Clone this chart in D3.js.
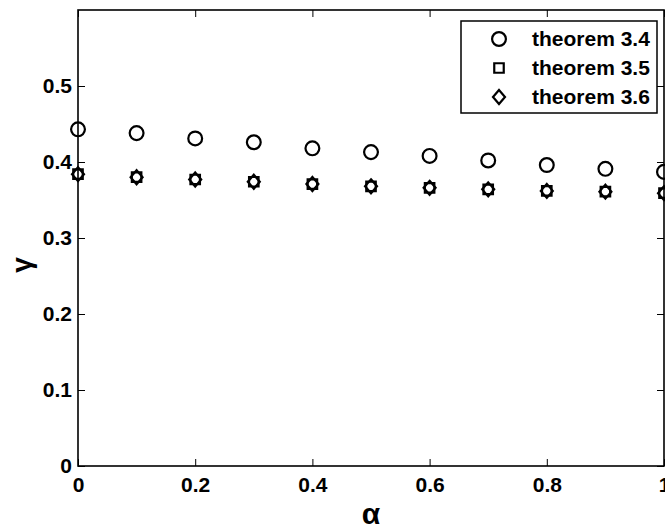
<!DOCTYPE html>
<html lang="en">
<head>
    <meta charset="UTF-8">
    <title>gamma vs alpha</title>
    <script src="https://d3js.org/d3.v7.min.js"></script>
    <style>
        body { margin: 0; background: #fff; }
        text {
            font-family: "Liberation Sans", Arial, sans-serif;
            font-weight: bold;
            fill: #000;
        }
    </style>
</head>
<body>
    <svg width="665" height="530"></svg>

    <script>
        // values
        const alphas = [0, 0.1, 0.2, 0.3, 0.4, 0.5, 0.6, 0.7, 0.8, 0.9, 1.0];
        const thm34 = [0.443, 0.438, 0.431, 0.426, 0.418, 0.413, 0.408, 0.402, 0.396, 0.391, 0.387];
        const thm35 = [0.384, 0.380, 0.377, 0.374, 0.371, 0.368, 0.366, 0.364, 0.362, 0.361, 0.359];
        const thm36 = [0.384, 0.380, 0.377, 0.374, 0.371, 0.368, 0.366, 0.364, 0.362, 0.361, 0.359];
        const xTicks = [0, 0.2, 0.4, 0.6, 0.8, 1];
        const yTicks = [0, 0.1, 0.2, 0.3, 0.4, 0.5];
        const labels = ["theorem 3.4", "theorem 3.5", "theorem 3.6"];

        const svg = d3.select("svg");
        const plotL = 78, plotR = 664, plotT = 10, plotB = 466;

        const x = d3.scaleLinear().domain([0, 1]).range([plotL, plotR]);
        const y = d3.scaleLinear().domain([0, 0.6]).range([plotB, plotT]);

        // frame
        svg.append("rect")
            .attr("x", plotL).attr("y", plotT)
            .attr("width", plotR - plotL).attr("height", plotB - plotT)
            .attr("fill", "none").attr("stroke", "#000").attr("stroke-width", 1.6);

        const fmt = d => d === 0 || d === 1 ? String(d) : d3.format(".1f")(d);

        // bottom / top axes, ticks pointing inward
        svg.append("g").attr("transform", `translate(0,${plotB})`)
            .call(d3.axisBottom(x).tickValues(xTicks).tickFormat(fmt).tickSizeInner(-7).tickSizeOuter(0).tickPadding(11))
            .call(g => g.select(".domain").remove())
            .call(g => g.selectAll("text").attr("font-size", 21).attr("font-family", null));
        svg.append("g").attr("transform", `translate(0,${plotT})`)
            .call(d3.axisTop(x).tickValues(xTicks).tickFormat("").tickSizeInner(-7).tickSizeOuter(0))
            .call(g => g.select(".domain").remove());

        // left / right axes
        svg.append("g").attr("transform", `translate(${plotL},0)`)
            .call(d3.axisLeft(y).tickValues(yTicks).tickFormat(fmt).tickSizeInner(-7).tickSizeOuter(0).tickPadding(6))
            .call(g => g.select(".domain").remove())
            .call(g => g.selectAll("text").attr("font-size", 21).attr("font-family", null));
        svg.append("g").attr("transform", `translate(${plotR},0)`)
            .call(d3.axisRight(y).tickValues(yTicks).tickFormat("").tickSizeInner(-7).tickSizeOuter(0))
            .call(g => g.select(".domain").remove());

        svg.selectAll(".tick line").attr("stroke", "#000");

        // axis labels
        svg.append("text")
            .attr("x", (plotL + plotR) / 2).attr("y", 524)
            .attr("text-anchor", "middle").attr("font-size", 30)
            .text("α");
        svg.append("text")
            .attr("transform", "translate(31,265) rotate(-90)")
            .attr("text-anchor", "middle").attr("font-size", 28)
            .text("γ");

        // markers
        const sym = {
            circle: d3.symbol().type(d3.symbolCircle).size(150),
            square: d3.symbol().type(d3.symbolSquare).size(90),
            diamond: () => "M0,-7L6,0L0,7L-6,0Z"
        };
        const series = [
            { vals: thm34, shape: "circle" },
            { vals: thm35, shape: "square" },
            { vals: thm36, shape: "diamond" }
        ];

        series.forEach(s => {
            svg.append("g").selectAll("path")
                .data(alphas.map((a, i) => [a, s.vals[i]]))
                .join("path")
                .attr("d", sym[s.shape])
                .attr("transform", d => `translate(${x(d[0])},${y(d[1])})`)
                .attr("fill", "none").attr("stroke", "#000").attr("stroke-width", 2.2);
        });

        // legend
        const lg = svg.append("g").attr("transform", "translate(461,21)");
        lg.append("rect").attr("width", 196).attr("height", 92)
            .attr("fill", "#fff").attr("stroke", "#000").attr("stroke-width", 1.5);
        series.forEach((s, i) => {
            const cy = 18 + i * 29;
            lg.append("path").attr("d", sym[s.shape])
                .attr("transform", `translate(38,${cy})`)
                .attr("fill", "none").attr("stroke", "#000").attr("stroke-width", 2.2);
            lg.append("text").attr("x", 71).attr("y", cy + 7)
                .attr("font-size", 21).text(labels[i]);
        });
    </script>
</body>
</html>
